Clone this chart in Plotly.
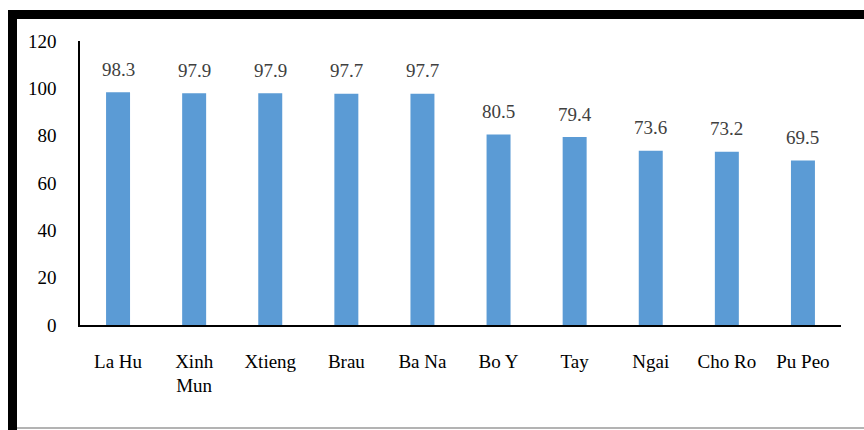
import plotly.graph_objects as go

groups = ["La Hu", "Xinh<br>Mun", "Xtieng", "Brau", "Ba Na", "Bo Y", "Tay", "Ngai", "Cho Ro", "Pu Peo"]
values = [98.3, 97.9, 97.9, 97.7, 97.7, 80.5, 79.4, 73.6, 73.2, 69.5]
y_ticks = [0, 20, 40, 60, 80, 100, 120]

serif = "Liberation Serif, Times New Roman, serif"

fig = go.Figure(
    go.Bar(
        x=groups,
        y=values,
        marker=dict(color="#5B9BD5", line=dict(width=0)),
    )
)

# value labels floating above each bar
annotations = [
    dict(x=g, y=v, xref="x", yref="y", text=f"{v:.1f}", showarrow=False,
         yanchor="middle", yshift=23,
         font=dict(family=serif, size=19, color="#404040"))
    for g, v in zip(groups, values)
]

fig.update_layout(
    width=864,
    height=430,
    margin=dict(l=80, r=23, t=41, b=105),
    paper_bgcolor="white",
    plot_bgcolor="white",
    bargap=0.685,
    showlegend=False,
    font=dict(family=serif, size=19, color="black"),
    annotations=annotations,
    shapes=[
        # heavy frame along the left and top edges
        dict(type="rect", xref="paper", yref="paper", xsizemode="pixel", ysizemode="pixel",
             xanchor=0, yanchor=1, x0=-72, x1=-63, y0=-395, y1=31,
             fillcolor="black", line=dict(width=0), layer="above"),
        dict(type="rect", xref="paper", yref="paper", xsizemode="pixel", ysizemode="pixel",
             xanchor=0, yanchor=1, x0=-72, x1=790, y0=22, y1=31,
             fillcolor="black", line=dict(width=0), layer="above"),
        # thin grey line along the bottom edge
        dict(type="line", xref="paper", yref="paper", xsizemode="pixel", ysizemode="pixel",
             xanchor=0, yanchor=0, x0=-63, x1=790, y0=-103, y1=-103,
             line=dict(color="#9a9a9a", width=1.5), layer="above"),
    ],
)

fig.update_xaxes(
    showline=True, linecolor="black", linewidth=1.5,
    showgrid=False, ticks="", ticklabelstandoff=18,
    tickfont=dict(family=serif, size=19, color="black"),
)
fig.update_yaxes(
    range=[0, 120], tickvals=y_ticks,
    showline=True, linecolor="black", linewidth=1.5,
    showgrid=False, zeroline=False, ticks="", ticklabelstandoff=18,
    tickfont=dict(family=serif, size=19, color="black"),
)

fig.write_html("out.html")
